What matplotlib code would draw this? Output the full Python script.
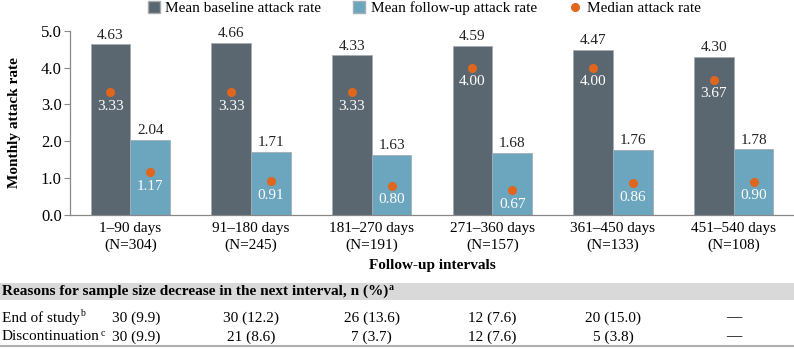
import matplotlib

matplotlib.use("Agg")
import matplotlib.pyplot as plt
import matplotlib.transforms as mtransforms
from matplotlib.patches import Rectangle
from matplotlib.lines import Line2D

plt.rcParams["font.family"] = ["Liberation Serif", "DejaVu Serif"]
plt.rcParams["font.size"] = 11

intervals = ["1–90 days", "91–180 days", "181–270 days",
             "271–360 days", "361–450 days", "451–540 days"]
n_patients = [304, 245, 191, 157, 133, 108]
baseline_mean = [4.63, 4.66, 4.33, 4.59, 4.47, 4.30]
followup_mean = [2.04, 1.71, 1.63, 1.68, 1.76, 1.78]
baseline_median = [3.33, 3.33, 3.33, 4.00, 4.00, 3.67]
followup_median = [1.17, 0.91, 0.80, 0.67, 0.86, 0.90]
end_of_study = ["30 (9.9)", "30 (12.2)", "26 (13.6)", "12 (7.6)", "20 (15.0)", "—"]
discontinuation = ["30 (9.9)", "21 (8.6)", "7 (3.7)", "12 (7.6)", "5 (3.8)", "—"]

DARK = "#5a6770"
LIGHT = "#6ba6be"
ORANGE = "#e0661e"
W, H = 794, 350

fig = plt.figure(figsize=(W / 100, H / 100), dpi=100)
ax = fig.add_axes([70 / W, (H - 215) / H, 724 / W, (215 - 30.7) / H])

bw = 0.33
x = list(range(len(intervals)))
xb = [i - bw / 2 for i in x]
xf = [i + bw / 2 for i in x]
ax.bar(xb, baseline_mean, bw, color=DARK, edgecolor="#a5adb3", linewidth=0.6)
ax.bar(xf, followup_mean, bw, color=LIGHT, edgecolor="#a5adb3", linewidth=0.6)

for xs, means, meds in ((xb, baseline_mean, baseline_median),
                        (xf, followup_mean, followup_median)):
    for xi, m, md in zip(xs, means, meds):
        ax.annotate(f"{m:.2f}", (xi, m), xytext=(0, 2), textcoords="offset points",
                    ha="center", va="bottom", color="#222222", annotation_clip=False)
        ax.annotate(f"{md:.2f}", (xi, md), xytext=(0, -5.5), textcoords="offset points",
                    ha="center", va="top", color="white")
    ax.plot(xs, meds, "o", color=ORANGE, markersize=5.5, linestyle="none")

ax.set_xlim(-0.5, 5.5)
ax.set_ylim(0, 5)
ax.set_yticks([0, 1, 2, 3, 4, 5])
ax.set_yticklabels([f"{v:.1f}" for v in range(6)], fontsize=12)
ax.set_xticks(x)
ax.set_xticklabels([f"{a}\n(N={n})" for a, n in zip(intervals, n_patients)],
                   linespacing=1.3)
ax.tick_params(axis="x", length=0, pad=5)
ax.tick_params(axis="y", length=4, color="#888888", pad=2)
for s in ("top", "right"):
    ax.spines[s].set_visible(False)
for s in ("left", "bottom"):
    ax.spines[s].set_color("#888888")
    ax.spines[s].set_linewidth(0.9)

ax.set_ylabel("Monthly attack rate", fontweight="bold")
ax.yaxis.set_label_coords(-0.068, 0.5)
ax.set_xlabel("Follow-up intervals", fontweight="bold")
ax.xaxis.set_label_coords(0.5, -(265 - 215) / (215 - 30.7))
ax.xaxis.label.set_va("center")

handles = [Line2D([], [], marker="s", linestyle="none", markersize=9,
                  markerfacecolor=DARK, markeredgecolor="#a5adb3"),
           Line2D([], [], marker="s", linestyle="none", markersize=9,
                  markerfacecolor=LIGHT, markeredgecolor="#a5adb3"),
           Line2D([], [], marker="o", linestyle="none", markersize=5.5, color=ORANGE)]
fig.legend(handles, ["Mean baseline attack rate", "Mean follow-up attack rate",
                     "Median attack rate"],
           loc="center", bbox_to_anchor=(0.534, 1 - 8 / H), ncol=3, frameon=False,
           handlelength=0.8, handletextpad=0.35, columnspacing=2.1,
           borderaxespad=0, borderpad=0)

# table under the chart
fig.patches.append(Rectangle((0, (H - 300) / H), 1, 17 / H, transform=fig.transFigure,
                             facecolor="#d9d9d9", edgecolor="none", zorder=0))
fig.add_artist(Line2D([0, 1], [(H - 346) / H] * 2, transform=fig.transFigure,
                      color="#b0b0b0", linewidth=1.5))
renderer = fig.canvas.get_renderer()


def sup_text(xpx, ypx, s, sup, **kw):
    t = fig.text(xpx / W, 1 - ypx / H, s, ha="left", va="center", **kw)
    bb = t.get_window_extent(renderer)
    fig.text((bb.x1 + 0.5) / W, 1 - (ypx - 4) / H, sup, ha="left", va="center",
             fontsize=7, fontweight=kw.get("fontweight", "normal"))


sup_text(2, 291.5, "Reasons for sample size decrease in the next interval, n (%)", "a",
         fontweight="bold")
sup_text(2, 318, "End of study", "b")
sup_text(2, 337, "Discontinuation", "c")

trans = mtransforms.blended_transform_factory(ax.transData, fig.transFigure)
for i in x:
    xi = i + 0.05 if i == 0 else i
    fig.text(xi, 1 - 318 / H, end_of_study[i], ha="center", va="center", transform=trans)
    fig.text(xi, 1 - 337 / H, discontinuation[i], ha="center", va="center", transform=trans)

fig.savefig("out.png", dpi=100)
